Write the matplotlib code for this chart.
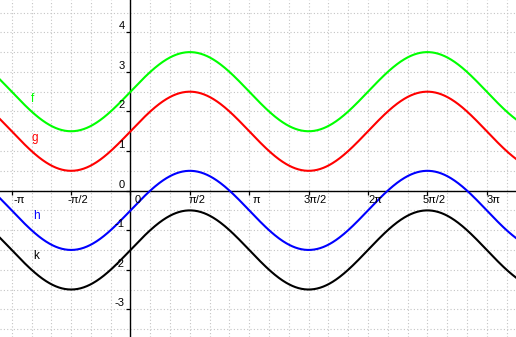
import numpy as np
import matplotlib.pyplot as plt

# functions y = amp * sin(x) + shift
names = ["f", "g", "h", "k"]
amps = [1.0, 1.0, 1.0, 1.0]
shifts = [2.5, 1.5, -0.5, -1.5]
colors = ["#00ff00", "#ff0000", "#0000ff", "#000000"]

# where the function names sit (data coords)
name_x = [-2.58, -2.53, -2.50, -2.50]
name_y = [2.31, 1.33, -0.63, -1.65]

# tick values and labels
xticks = [-np.pi, -np.pi / 2, 0, np.pi / 2, np.pi, 3 * np.pi / 2, 2 * np.pi, 5 * np.pi / 2, 3 * np.pi]
xlabels = ["-π", "-π/2", "0", "π/2", "π", "3π/2", "2π", "5π/2", "3π"]
yticks = [-3, -2, -1, 0, 1, 2, 3, 4]
ylabels = ["-3", "-2", "-1", "0", "1", "2", "3", "4"]

plt.rcParams["font.family"] = ["Liberation Sans", "DejaVu Sans"]

fig = plt.figure(figsize=(5.16, 3.37), dpi=100)
ax = fig.add_axes([0, 0, 1, 1])

xmin, xmax = -3.452, 10.198
ymin, ymax = -3.70, 4.817

#grid: pi/6 across, 0.5 up
ax.set_xticks(xticks)
ax.set_yticks(yticks)
ax.set_xticks(np.arange(-7, 20) * np.pi / 6, minor=True)
ax.set_yticks(np.arange(-8, 10) * 0.5, minor=True)
ax.grid(True, which="both", color="#c4c4c4", linestyle=(0, (1, 2)), linewidth=0.8)
ax.set_axisbelow(True)

# limits after the ticks, set_ticks would stretch them otherwise
ax.set_xlim(xmin, xmax)
ax.set_ylim(ymin, ymax)

# axes through the origin
ax.spines["left"].set_position(("data", 0))
ax.spines["bottom"].set_position(("data", 0))
ax.spines["top"].set_visible(False)
ax.spines["right"].set_visible(False)
for s in ["left", "bottom"]:
    ax.spines[s].set_linewidth(1.0)
ax.tick_params(which="major", direction="out", length=3, width=0.9,
               labelbottom=False, labelleft=False)
ax.tick_params(which="minor", length=0)

x = np.linspace(xmin, xmax, 1000)
for name, a, b, c in zip(names, amps, shifts, colors):
    ax.plot(x, a * np.sin(x) + b, color=c, linewidth=1.5, zorder=3)

for name, nx, ny, c in zip(names, name_x, name_y, colors):
    ax.text(nx, ny, name, color=c, fontsize=8.5, ha="center", va="center")

for t, lab in zip(xticks, xlabels):
    ax.annotate(lab, xy=(t, 0), xytext=(7, -4), textcoords="offset pixels",
                ha="center", va="top", fontsize=8)

for t, lab in zip(yticks, ylabels):
    ax.annotate(lab, xy=(0, t), xytext=(-6, 1), textcoords="offset pixels",
                ha="right", va="bottom", fontsize=8)

fig.savefig("out.png", dpi=100)
